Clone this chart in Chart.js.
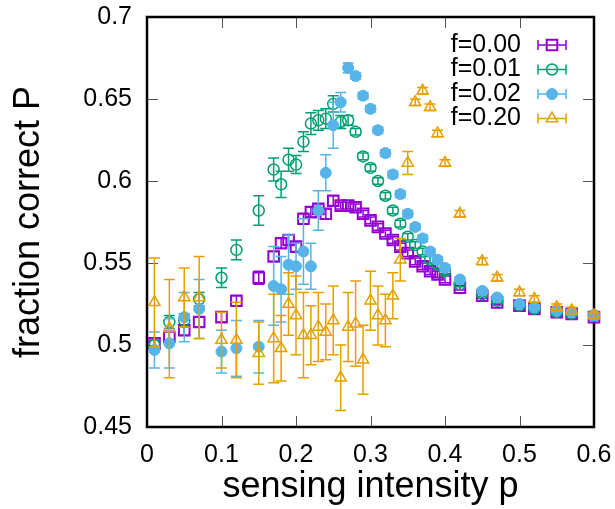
<!DOCTYPE html>
<html>
<head>
<meta charset="utf-8">
<script src="https://cdn.jsdelivr.net/npm/chart.js@4.4.1/dist/chart.umd.min.js"></script>
<style>
  html, body { margin: 0; padding: 0; background: #fff; }
  #wrap { width: 615px; height: 509px; }
</style>
</head>
<body>
<div id="wrap"><canvas id="myChart"></canvas></div>
<script>
// sensing intensity p
var pValues = [0.01, 0.03, 0.05, 0.07, 0.10, 0.12, 0.15, 0.17, 0.18, 0.19, 0.20, 0.21, 0.22, 0.23, 0.24,
               0.25, 0.26, 0.27, 0.28, 0.29, 0.30, 0.31, 0.32, 0.33, 0.34, 0.35, 0.36, 0.37, 0.38, 0.39,
               0.40, 0.42, 0.45, 0.47, 0.50, 0.52, 0.55, 0.57, 0.60];

// fraction correct P for each f
var f000 = [0.501, 0.505, 0.509, 0.514, 0.517, 0.527, 0.541, 0.554, 0.562, 0.564, 0.560, 0.577, 0.581, 0.583, 0.580,
            0.588, 0.585, 0.585, 0.584, 0.580, 0.576, 0.572, 0.568, 0.564, 0.560, 0.556, 0.551, 0.548, 0.545, 0.543,
            0.540, 0.535, 0.530, 0.526, 0.524, 0.522, 0.520, 0.519, 0.517];
var f001 = [0.500, 0.514, 0.515, 0.528, 0.541, 0.558, 0.582, 0.607, 0.598, 0.613, 0.610, 0.624, 0.635, 0.637, 0.638,
            0.647, 0.636, 0.637, 0.630, 0.615, 0.608, 0.600, 0.591, 0.582, 0.574, 0.566, 0.561, 0.557, 0.552, 0.549,
            0.545, 0.537, 0.531, 0.527, 0.524, 0.522, 0.520, 0.519, 0.518];
var f002 = [0.497, 0.501, 0.517, 0.522, 0.496, 0.498, 0.499, 0.536, 0.534, 0.549, 0.548, 0.557, 0.548, 0.582, 0.605,
            0.634, 0.648, 0.669, 0.664, 0.652, 0.644, 0.631, 0.617, 0.604, 0.592, 0.580, 0.572, 0.565, 0.557, 0.552,
            0.547, 0.540, 0.533, 0.529, 0.525, 0.523, 0.521, 0.520, 0.518];
var f020 = [0.526, 0.510, 0.529, 0.529, 0.503, 0.503, 0.495, 0.504, 0.498, 0.525, 0.518, 0.506, 0.506, 0.511, 0.508,
            0.515, 0.480, 0.511, 0.513, 0.491, 0.527, 0.518, 0.515, 0.530, 0.552, 0.611, 0.648, 0.655, 0.645, 0.629,
            0.611, 0.580, 0.551, 0.541, 0.532, 0.528, 0.523, 0.521, 0.518];

// error bars (+/-)
var e000 = [0.003, 0.003, 0.003, 0.003, 0.003, 0.003, 0.004, 0.003, 0.003, 0.003, 0.003, 0.003, 0.003, 0.003, 0.003,
            0.003, 0.002, 0.002, 0.002, 0.002, 0.002, 0.002, 0.002, 0.002, 0.002, 0.002, 0.002, 0.002, 0.002, 0.002,
            0.002, 0.0015, 0.0015, 0.0015, 0.0015, 0.0015, 0.0015, 0.0015, 0.0015];
var e001 = [0.003, 0.004, 0.004, 0.004, 0.006, 0.006, 0.009, 0.007, 0.008, 0.007, 0.0055, 0.006, 0.0066, 0.006, 0.006,
            0.005, 0.004, 0.003, 0.002, 0.002, 0.002, 0.002, 0.002, 0.002, 0.002, 0.002, 0.002, 0.002, 0.002, 0.002,
            0.002, 0.0015, 0.0015, 0.0015, 0.0015, 0.0015, 0.0015, 0.0015, 0.0015];
var e002 = [0.011, 0.015, 0.015, 0.018, 0.013, 0.017, 0.016, 0.024, 0.020, 0.018, 0.014, 0.020, 0.014, 0.012, 0.011,
            0.014, 0.006, 0.003, 0.002, 0.002, 0.002, 0.002, 0.002, 0.002, 0.002, 0.002, 0.002, 0.002, 0.002, 0.002,
            0.002, 0.0015, 0.0015, 0.0015, 0.0015, 0.0015, 0.0015, 0.0015, 0.0015];
var e020 = [0.027, 0.030, 0.018, 0.025, 0.017, 0.023, 0.019, 0.027, 0.020, 0.019, 0.024, 0.026, 0.018, 0.021, 0.017,
            0.021, 0.020, 0.021, 0.026, 0.021, 0.018, 0.018, 0.016, 0.014, 0.013, 0.007, 0.002, 0.002, 0.002, 0.002,
            0.002, 0.002, 0.002, 0.002, 0.002, 0.002, 0.002, 0.002, 0.002];

var seriesLabels = ['f=0.00', 'f=0.01', 'f=0.02', 'f=0.20'];
var seriesColors = ['#9400d3', '#009e73', '#56b4e9', '#e69f00'];
var errors = [e000, e001, e002, e020];

function pts(arr) {
    return pValues.map(function (p, i) { return {x: p, y: arr[i]}; });
}

// gnuplot-like frame, inward ticks, error bars and key
var gnuplotLook = {
    id: 'gnuplotLook',
    beforeDatasetsDraw: function (chart) {
        var ctx = chart.ctx, a = chart.chartArea;
        var xs = chart.scales.x, ys = chart.scales.y;
        ctx.save();
        ctx.strokeStyle = '#555';
        ctx.lineWidth = 1;
        ctx.beginPath();
        xs.ticks.forEach(function (t) {
            var x = Math.round(xs.getPixelForValue(t.value)) + 0.5;
            ctx.moveTo(x, a.bottom); ctx.lineTo(x, a.bottom - 11);
            ctx.moveTo(x, a.top); ctx.lineTo(x, a.top + 11);
        });
        ys.ticks.forEach(function (t) {
            var y = Math.round(ys.getPixelForValue(t.value)) + 0.5;
            ctx.moveTo(a.left, y); ctx.lineTo(a.left + 11, y);
            ctx.moveTo(a.right, y); ctx.lineTo(a.right - 11, y);
        });
        ctx.stroke();
        ctx.strokeStyle = '#000';
        ctx.lineWidth = 2.5;
        ctx.strokeRect(a.left, a.top, a.right - a.left, a.bottom - a.top);
        ctx.restore();
    },
    beforeDatasetDraw: function (chart, args) {
        var ctx = chart.ctx, i = args.index;
        var xs = chart.scales.x, ys = chart.scales.y;
        var data = chart.data.datasets[i].data, err = errors[i];
        ctx.save();
        ctx.strokeStyle = seriesColors[i];
        ctx.lineWidth = 1.5;
        ctx.beginPath();
        data.forEach(function (d, k) {
            var x = xs.getPixelForValue(d.x);
            var y1 = ys.getPixelForValue(d.y - err[k]);
            var y2 = ys.getPixelForValue(d.y + err[k]);
            ctx.moveTo(x, y1); ctx.lineTo(x, y2);
            ctx.moveTo(x - 5.5, y1); ctx.lineTo(x + 5.5, y1);
            ctx.moveTo(x - 5.5, y2); ctx.lineTo(x + 5.5, y2);
        });
        ctx.stroke();
        ctx.restore();
    },
    afterDraw: function (chart) {
        var ctx = chart.ctx;
        ctx.save();
        ctx.font = '25px "Liberation Sans", Arial, sans-serif';
        ctx.textAlign = 'right';
        ctx.textBaseline = 'middle';
        chart.data.datasets.forEach(function (ds, i) {
            var y = 45 + i * 24.5;
            ctx.fillStyle = '#000';
            ctx.fillText(seriesLabels[i], 521, y);
            ctx.strokeStyle = seriesColors[i];
            ctx.lineWidth = 1.5;
            ctx.beginPath();
            ctx.moveTo(538, y); ctx.lineTo(566, y);
            ctx.moveTo(538, y - 5); ctx.lineTo(538, y + 5);
            ctx.moveTo(566, y - 5); ctx.lineTo(566, y + 5);
            ctx.stroke();
            ctx.fillStyle = ds.backgroundColor;
            ctx.strokeStyle = ds.borderColor;
            ctx.lineWidth = ds.borderWidth;
            Chart.helpers.drawPoint(ctx, {
                pointStyle: ds.pointStyle, radius: ds.pointRadius, borderWidth: ds.borderWidth
            }, 552, y);
        });
        ctx.restore();
    }
};

var ctx = document.getElementById('myChart').getContext('2d');
var myScatter = new Chart(ctx, {
    type: 'scatter',
    data: {
        datasets: [{
            label: seriesLabels[0], data: pts(f000), order: 4, clip: false,
            pointStyle: 'rect', pointRadius: 7.5, borderWidth: 2,
            borderColor: seriesColors[0], backgroundColor: 'rgba(0,0,0,0)'
        }, {
            label: seriesLabels[1], data: pts(f001), order: 3, clip: false,
            pointStyle: 'circle', pointRadius: 5.5, borderWidth: 1.5,
            borderColor: seriesColors[1], backgroundColor: 'rgba(0,0,0,0)'
        }, {
            label: seriesLabels[2], data: pts(f002), order: 2, clip: false,
            pointStyle: 'circle', pointRadius: 5.5, borderWidth: 1,
            borderColor: seriesColors[2], backgroundColor: seriesColors[2]
        }, {
            label: seriesLabels[3], data: pts(f020), order: 1, clip: false,
            pointStyle: 'triangle', pointRadius: 6.5, borderWidth: 1.5,
            borderColor: seriesColors[3], backgroundColor: 'rgba(0,0,0,0)'
        }]
    },
    options: {
        responsive: true,
        maintainAspectRatio: false,
        animation: false,
        layout: { padding: { top: 17, right: 21, left: 0, bottom: 0 } },
        plugins: { legend: { display: false }, tooltip: { enabled: false } },
        scales: {
            x: {
                type: 'linear', min: 0, max: 0.6,
                grid: { display: false, drawTicks: false },
                border: { display: false },
                ticks: {
                    stepSize: 0.1, padding: 13, color: '#000',
                    font: { family: '"Liberation Sans", Arial, sans-serif', size: 25 },
                    callback: function (v) { return String(parseFloat(v.toFixed(2))); }
                },
                title: {
                    display: true, text: 'sensing intensity p', color: '#000',
                    font: { family: '"Liberation Sans", Arial, sans-serif', size: 36 },
                    padding: { top: 0, bottom: 0 }
                },
                afterFit: function (s) { s.height = 82; s.paddingLeft = 0; s.paddingRight = 0; }
            },
            y: {
                type: 'linear', min: 0.45, max: 0.7,
                grid: { display: false, drawTicks: false },
                border: { display: false },
                ticks: {
                    stepSize: 0.05, padding: 15, color: '#000',
                    font: { family: '"Liberation Sans", Arial, sans-serif', size: 25 },
                    callback: function (v) { return String(parseFloat(v.toFixed(2))); }
                },
                title: {
                    display: true, text: 'fraction correct P', color: '#000',
                    font: { family: '"Liberation Sans", Arial, sans-serif', size: 36 },
                    padding: { top: 7, bottom: 0 }
                },
                afterFit: function (s) { s.width = 147; s.paddingTop = 0; s.paddingBottom = 0; }
            }
        }
    },
    plugins: [gnuplotLook]
});
</script>
</body>
</html>
